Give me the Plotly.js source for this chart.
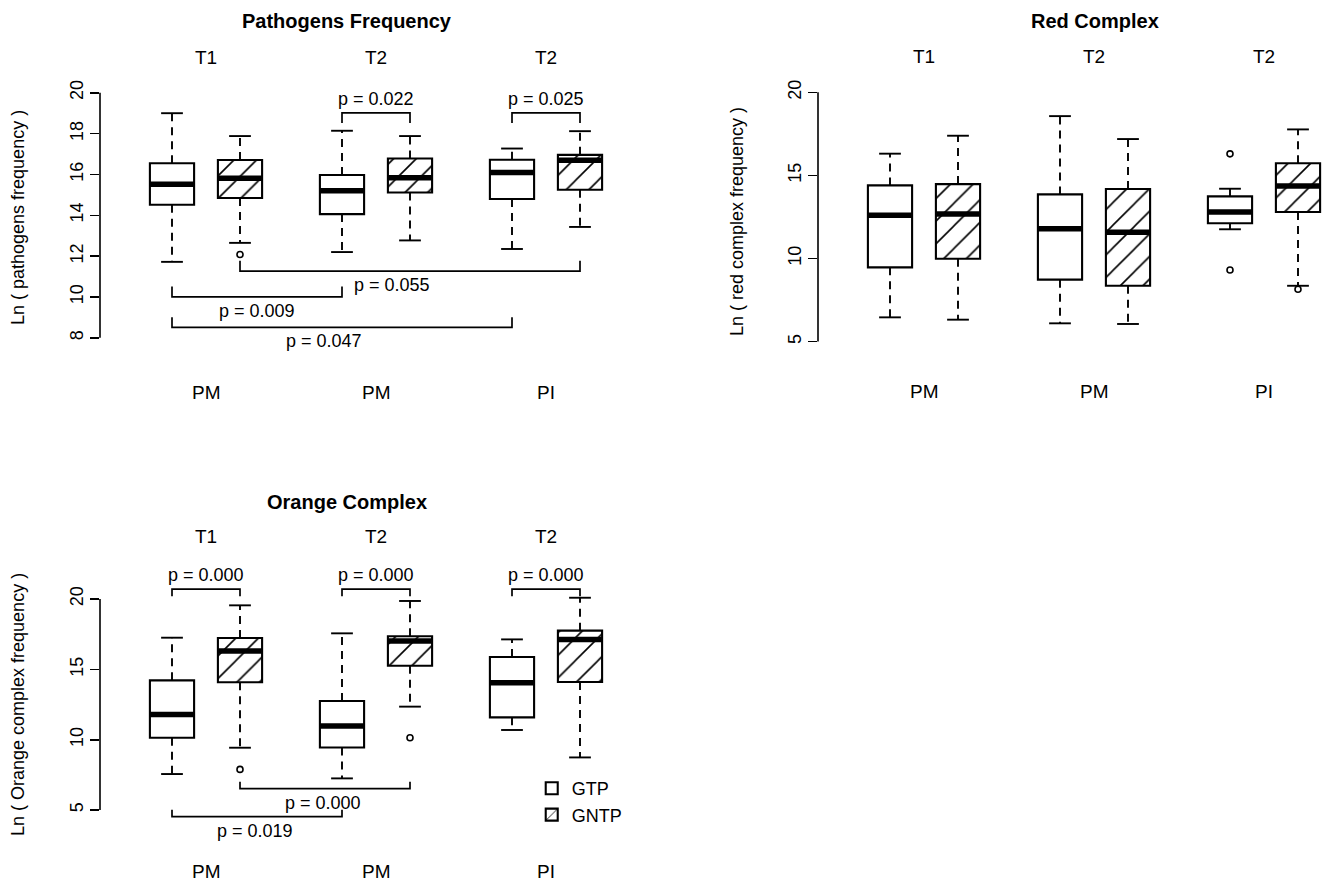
<!DOCTYPE html>
<html><head><meta charset="utf-8">
<script src="https://cdn.plot.ly/plotly-3.0.1.min.js"></script>
<style>html,body{margin:0;padding:0;background:#fff}#chart{width:1326px;height:883px}</style>
</head><body><div id="chart"></div>
<script>
// ---------- DATA ----------
const groupLabelsTop = ['T1', 'T2', 'T2'];
const groupLabelsBottom = ['PM', 'PM', 'PI'];
const seriesNames = ['GTP', 'GNTP'];

// Pathogens Frequency
const pathGTP_lower  = [11.72, 12.20, 12.35];
const pathGTP_q1     = [14.52, 14.06, 14.80];
const pathGTP_median = [15.52, 15.20, 16.10];
const pathGTP_q3     = [16.55, 15.97, 16.72];
const pathGTP_upper  = [19.00, 18.14, 17.27];
const pathGTP_out    = [[], [], []];
const pathGNTP_lower  = [12.65, 12.77, 13.43];
const pathGNTP_q1     = [14.85, 15.12, 15.25];
const pathGNTP_median = [15.81, 15.84, 16.70];
const pathGNTP_q3     = [16.71, 16.78, 16.96];
const pathGNTP_upper  = [17.88, 17.88, 18.12];
const pathGNTP_out    = [[12.08], [], []];
const pathTicks = [8, 10, 12, 14, 16, 18, 20];
const pathBracketLabels = ['p = 0.022', 'p = 0.025', 'p = 0.055', 'p = 0.009', 'p = 0.047'];
const pathBracketFrom = [[1, 0], [2, 0], [0, 1], [0, 0], [0, 0]];   // [group, series]
const pathBracketTo   = [[1, 1], [2, 1], [2, 1], [1, 0], [2, 0]];
const pathBracketY    = [19.02, 19.02, 11.27, 10.01, 8.51];

// Red Complex
const redGTP_lower  = [6.46, 6.10, 11.76];
const redGTP_q1     = [9.47, 8.73, 12.12];
const redGTP_median = [12.60, 11.79, 12.80];
const redGTP_q3     = [14.40, 13.86, 13.74];
const redGTP_upper  = [16.31, 18.57, 14.20];
const redGTP_out    = [[], [], [16.30, 9.31]];
const redGNTP_lower  = [6.32, 6.06, 8.36];
const redGNTP_q1     = [9.99, 8.36, 12.80];
const redGNTP_median = [12.68, 11.58, 14.36];
const redGNTP_q3     = [14.48, 14.18, 15.73];
const redGNTP_upper  = [17.39, 17.19, 17.77];
const redGNTP_out    = [[], [], [8.15]];
const redTicks = [5, 10, 15, 20];

// Orange Complex
const orGTP_lower  = [7.56, 7.25, 10.69];
const orGTP_q1     = [10.14, 9.45, 11.59];
const orGTP_median = [11.80, 10.97, 14.05];
const orGTP_q3     = [14.22, 12.75, 15.88];
const orGTP_upper  = [17.25, 17.56, 17.13];
const orGTP_out    = [[], [], []];
const orGNTP_lower  = [9.43, 12.35, 8.74];
const orGNTP_q1     = [14.08, 15.26, 14.10];
const orGNTP_median = [16.30, 17.01, 17.13];
const orGNTP_q3     = [17.23, 17.35, 17.75];
const orGNTP_upper  = [19.55, 19.86, 20.09];
const orGNTP_out    = [[7.89], [10.14], []];
const orTicks = [5, 10, 15, 20];
const orBracketLabels = ['p = 0.000', 'p = 0.000', 'p = 0.000', 'p = 0.000', 'p = 0.019'];
const orBracketFrom = [[0, 0], [1, 0], [2, 0], [0, 1], [0, 0]];
const orBracketTo   = [[0, 1], [1, 1], [2, 1], [1, 1], [1, 0]];
const orBracketY    = [20.70, 20.70, 20.70, 6.52, 4.53];

// ---------- DRAWING ----------
const FONT = 'Liberation Sans, Arial, Helvetica, sans-serif';
const W = 1326, H = 883;
const BOX_W = 0.65, CAP_W = 0.32, LEG = 0.5;
function pos(g, s) { return 1 + g * 2.5 + s; }
function mkStats(lower, q1, median, q3, upper, out) { return {lower, q1, median, q3, upper, out}; }

const panels = [
  {
    xa: 'x', ya: 'y', title: 'Pathogens Frequency', ytitle: 'Ln ( pathogens frequency )',
    stats: [mkStats(pathGTP_lower, pathGTP_q1, pathGTP_median, pathGTP_q3, pathGTP_upper, pathGTP_out),
            mkStats(pathGNTP_lower, pathGNTP_q1, pathGNTP_median, pathGNTP_q3, pathGNTP_upper, pathGNTP_out)],
    ticks: pathTicks,
    brackets: {labels: pathBracketLabels, from: pathBracketFrom, to: pathBracketTo, y: pathBracketY},
    labelDx: [0, 0, -0.26, 0, -0.26],
    xpx: [100, 640], ypx: [45, 405], yrange: [4.71, 22.34],
    titlePx: [347, 21], ytitlePx: [18, 218], topLabelY: 21.75, botLabelY: 5.34, legend: false
  },
  {
    xa: 'x2', ya: 'y2', title: 'Red Complex', ytitle: 'Ln ( red complex frequency )',
    stats: [mkStats(redGTP_lower, redGTP_q1, redGTP_median, redGTP_q3, redGTP_upper, redGTP_out),
            mkStats(redGNTP_lower, redGNTP_q1, redGNTP_median, redGNTP_q3, redGNTP_upper, redGNTP_out)],
    ticks: redTicks, brackets: null, labelDx: [],
    xpx: [818, 1326], ypx: [45, 405], yrange: [1.185, 22.85],
    titlePx: [1095, 21], ytitlePx: [737, 222], topLabelY: 22.15, botLabelY: 2.0, legend: false
  },
  {
    xa: 'x3', ya: 'y3', title: 'Orange Complex', ytitle: 'Ln ( Orange complex frequency )',
    stats: [mkStats(orGTP_lower, orGTP_q1, orGTP_median, orGTP_q3, orGTP_upper, orGTP_out),
            mkStats(orGNTP_lower, orGNTP_q1, orGNTP_median, orGNTP_q3, orGNTP_upper, orGNTP_out)],
    ticks: orTicks,
    brackets: {labels: orBracketLabels, from: orBracketFrom, to: orBracketTo, y: orBracketY},
    labelDx: [0, 0, 0, -0.03, -0.03],
    xpx: [100, 640], ypx: [525, 883], yrange: [-0.185, 25.26],
    titlePx: [347, 502], ytitlePx: [18, 705], topLabelY: 24.41, botLabelY: 0.6, legend: true
  }
];

const data = [];
const annotations = [];
const shapes = [];
const layout = {
  width: W, height: H, margin: {l: 0, r: 0, t: 0, b: 0},
  paper_bgcolor: 'white', plot_bgcolor: 'rgba(0,0,0,0)',
  font: {family: FONT, color: 'black'},
  barmode: 'overlay', hovermode: false, dragmode: false,
  showlegend: true,
  legend: {x: 0.401, y: 0.128, xanchor: 'left', yanchor: 'top', font: {size: 18, family: FONT}, bgcolor: 'rgba(0,0,0,0)', borderwidth: 0, traceorder: 'normal', itemwidth: 30}
};

panels.forEach((p, pi) => {
  const xRangeLeft = 1 - 72 / 68;
  const xRangeRight = 1 + (p.xpx[1] - p.xpx[0] - 72) / 68;
  const sfx = pi === 0 ? '' : String(pi + 1);
  layout['xaxis' + sfx] = {
    domain: [p.xpx[0] / W, p.xpx[1] / W], range: [xRangeLeft, xRangeRight], visible: false, fixedrange: true,
    anchor: p.ya
  };
  layout['yaxis' + sfx] = {
    domain: [1 - p.ypx[1] / H, 1 - p.ypx[0] / H], range: p.yrange, anchor: p.xa,
    tickvals: p.ticks, ticktext: p.ticks.map(String), ticks: 'outside', ticklen: 9, tickwidth: 1.6, tickcolor: 'black',
    tickangle: -90, showgrid: false, zeroline: false, showline: false, fixedrange: true,
    tickfont: {size: 18, family: FONT, color: 'black'}
  };
  // axis line from first to last tick (R style)
  shapes.push({type: 'line', xref: p.xa + ' domain', yref: p.ya, x0: 0, x1: 0,
    y0: p.ticks[0], y1: p.ticks[p.ticks.length - 1], line: {color: 'black', width: 1.6}, layer: 'above'});

  const wx = [], wy = [], cx = [], cy = [], mx = [], my = [], ox = [], oy = [];
  p.stats.forEach((d, si) => {
    d.median.forEach((m, g) => {
      const x = pos(g, si);
      wx.push(x, x, null, x, x, null);
      wy.push(d.q3[g], d.upper[g], null, d.q1[g], d.lower[g], null);
      cx.push(x - CAP_W / 2, x + CAP_W / 2, null, x - CAP_W / 2, x + CAP_W / 2, null);
      cy.push(d.upper[g], d.upper[g], null, d.lower[g], d.lower[g], null);
      mx.push(x - BOX_W / 2, x + BOX_W / 2, null);
      my.push(m, m, null);
      d.out[g].forEach(v => { ox.push(x); oy.push(v); });
    });
  });
  data.push({type: 'scatter', mode: 'lines', x: wx, y: wy, xaxis: p.xa, yaxis: p.ya, showlegend: false,
    line: {color: 'black', width: 1.9, dash: '8px,6px'}, hoverinfo: 'skip'});
  data.push({type: 'scatter', mode: 'lines', x: cx, y: cy, xaxis: p.xa, yaxis: p.ya, showlegend: false,
    line: {color: 'black', width: 1.9}, hoverinfo: 'skip'});
  p.stats.forEach((d, si) => {
    const marker = {color: 'white', line: {color: 'black', width: 2.1}};
    if (si === 1) marker.pattern = {shape: '/', fgcolor: 'black', bgcolor: 'white', size: 16, solidity: 0.1, fillmode: 'replace'};
    data.push({type: 'bar', x: d.median.map((_, g) => pos(g, si)), base: d.q1, y: d.q3.map((v, g) => v - d.q1[g]),
      width: BOX_W, marker: marker, xaxis: p.xa, yaxis: p.ya, name: seriesNames[si],
      showlegend: p.legend, hoverinfo: 'skip'});
  });
  data.push({type: 'scatter', mode: 'lines', x: mx, y: my, xaxis: p.xa, yaxis: p.ya, showlegend: false,
    line: {color: 'black', width: 5.5}, hoverinfo: 'skip'});
  if (ox.length) data.push({type: 'scatter', mode: 'markers', x: ox, y: oy, xaxis: p.xa, yaxis: p.ya, showlegend: false,
    marker: {symbol: 'circle-open', size: 6, color: 'black', line: {width: 1.6}}, hoverinfo: 'skip', cliponaxis: false});

  // brackets
  if (p.brackets) {
    const bx = [], by = [];
    p.brackets.labels.forEach((lab, i) => {
      const x0 = pos(p.brackets.from[i][0], p.brackets.from[i][1]);
      const x1 = pos(p.brackets.to[i][0], p.brackets.to[i][1]);
      const yv = p.brackets.y[i];
      const top = yv > 18;
      const leg = top ? yv - LEG : yv + LEG;
      bx.push(x0, x0, x1, x1, null);
      by.push(leg, yv, yv, leg, null);
      annotations.push({xref: p.xa, yref: p.ya, x: (x0 + x1) / 2 + (p.labelDx[i] || 0), y: yv, text: lab, showarrow: false,
        yshift: top ? 14 : -14, xanchor: 'center', yanchor: 'middle', font: {size: 18, family: FONT}});
    });
    data.push({type: 'scatter', mode: 'lines', x: bx, y: by, xaxis: p.xa, yaxis: p.ya, showlegend: false,
      line: {color: 'black', width: 1.7}, hoverinfo: 'skip'});
  }

  // group labels
  groupLabelsTop.forEach((t, g) => {
    annotations.push({xref: p.xa, yref: p.ya, x: pos(g, 0.5), y: p.topLabelY, text: t, showarrow: false,
      xanchor: 'center', yanchor: 'middle', font: {size: 19, family: FONT}});
    annotations.push({xref: p.xa, yref: p.ya, x: pos(g, 0.5), y: p.botLabelY, text: groupLabelsBottom[g], showarrow: false,
      xanchor: 'center', yanchor: 'middle', font: {size: 19, family: FONT}});
  });
  // title
  annotations.push({xref: 'paper', yref: 'paper', x: p.titlePx[0] / W, y: 1 - p.titlePx[1] / H, text: '<b>' + p.title + '</b>',
    showarrow: false, xanchor: 'center', yanchor: 'middle', font: {size: 20, family: FONT}});
  // y title
  annotations.push({xref: 'paper', yref: 'paper', x: p.ytitlePx[0] / W, y: 1 - p.ytitlePx[1] / H, text: p.ytitle,
    showarrow: false, textangle: -90, xanchor: 'center', yanchor: 'middle', font: {size: 18, family: FONT}});
});

layout.annotations = annotations;
layout.shapes = shapes;

Plotly.newPlot('chart', data, layout, {staticPlot: true, displayModeBar: false});
</script>
</body></html>
